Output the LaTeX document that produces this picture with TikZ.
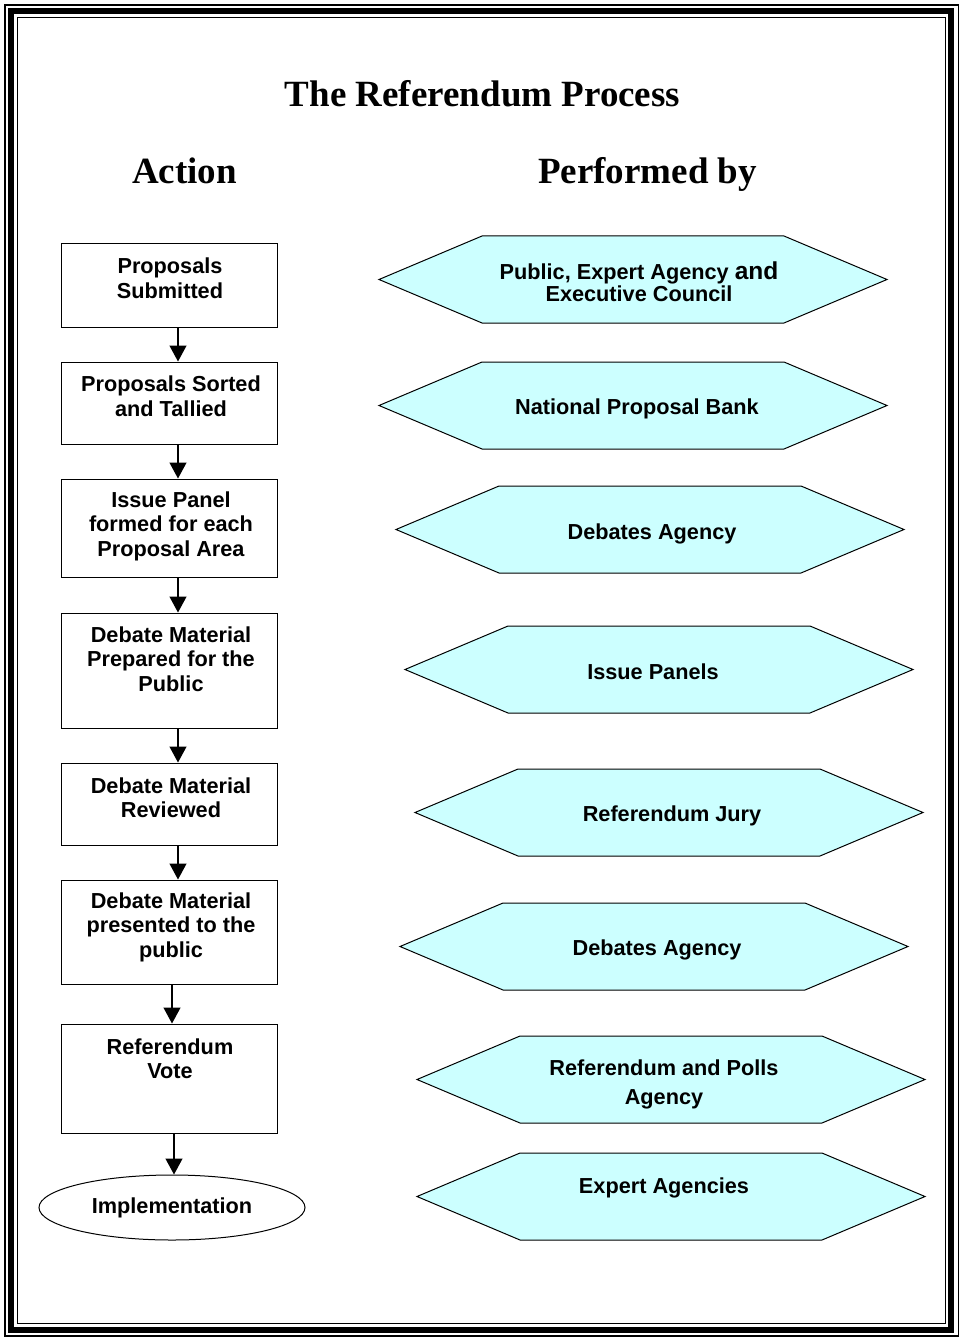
\documentclass[tikz,border=0pt]{standalone}
\usepackage{fontspec}
\setmainfont{Liberation Serif}
\newfontfamily\arialf{Liberation Sans}
\usetikzlibrary{arrows.meta,shapes.geometric}
\definecolor{hexfill}{HTML}{CCFFFF}
\tikzset{
  heading/.style={anchor=base, inner sep=0pt, font=\bfseries\fontsize{37}{40}\selectfont},
  stepbox/.style={draw=black, line width=1pt, minimum width=216pt, minimum height=#1, inner sep=0pt},
  btxt/.style={align=center, inner sep=0pt, font=\arialf\bfseries\fontsize{21.7}{24.5}\selectfont},
  hexshape/.style={draw=black, line width=1pt, fill=hexfill},
  endnode/.style={draw=black, line width=1pt, ellipse, minimum width=266pt, minimum height=65pt, inner sep=0pt, font=\arialf\bfseries\fontsize{21.7}{24.5}\selectfont},
  arr/.style={line width=1.3pt, -{Triangle[length=16pt,width=17pt]}},
}
\newcommand\hexa[3]{% left x, top y, name
  \draw[hexshape] (#1,#2+43.5) coordinate (#3) -- ++(103,-43.5) -- ++(302,0) -- ++(103,43.5) -- ++(-103,43.5) -- ++(-302,0) -- cycle;}
\begin{document}
\begin{tikzpicture}[x=1pt,y=-1pt]
\useasboundingbox (0,0) rectangle (964,1337);
% frame
\draw[line width=1.6pt] (5,5) rectangle (958.5,1336);
\draw[line width=6pt] (10.8,10.8) rectangle (951,1330);
\draw[line width=1.6pt] (17.5,17.5) rectangle (945.5,1323.5);

% headings
\node[heading] (title) at (482.5,107) {The Referendum Process};
\node[heading] (action) at (184.5,184) {Action};
\node[heading] (perf) at (647.5,184) {Performed by};

% action boxes
\node[stepbox=83pt] (b1) at (169,285.5) {};
\node[btxt] (b1t) at (170,278) {Proposals\\Submitted};
\node[stepbox=82pt] (b2) at (169,403) {};
\node[btxt] (b2t) at (171,396) {Proposals Sorted\\and Tallied};
\node[stepbox=98pt] (b3) at (169,528) {};
\node[btxt] (b3t) at (171,526) {Issue Panel\\formed for each\\Proposal Area};
\node[stepbox=115pt] (b4) at (169,670.5) {};
\node[btxt] (b4t) at (171,659) {Debate Material\\Prepared for the\\Public};
\node[stepbox=82pt] (b5) at (169,804) {};
\node[btxt] (b5t) at (171,797.5) {Debate Material\\Reviewed};
\node[stepbox=104pt] (b6) at (169,932) {};
\node[btxt] (b6t) at (171,927) {Debate Material\\presented to the\\public};
\node[stepbox=109pt] (b7) at (169,1078.5) {};
\node[btxt] (b7t) at (170,1058.5) {Referendum\\Vote};
\node[endnode] (impl) at (172,1207.5) {Implementation};

% arrows
\draw[arr] ([xshift=9pt]b1.south) -- ([xshift=9pt]b2.north);
\draw[arr] ([xshift=9pt]b2.south) -- ([xshift=9pt]b3.north);
\draw[arr] ([xshift=9pt]b3.south) -- ([xshift=9pt]b4.north);
\draw[arr] ([xshift=9pt]b4.south) -- ([xshift=9pt]b5.north);
\draw[arr] ([xshift=9pt]b5.south) -- ([xshift=9pt]b6.north);
\draw[arr] ([xshift=3pt]b6.south) -- ([xshift=3pt]b7.north);
\draw[arr] ([xshift=5pt]b7.south) -- ([xshift=5pt]b7.south |- impl.north);

% performer hexagons
\hexa{379}{236}{h1}
\node[btxt, font=\arialf\bfseries\fontsize{21.7}{22}\selectfont] (h1t) at (639,282) {Public, Expert Agency {\fontsize{24.5}{22}\selectfont and}\\Executive Council};
\hexa{379}{362}{h2}
\node[btxt] (h2t) at (637,409) {National Proposal Bank};
\hexa{396}{486}{h3}
\node[btxt] (h3t) at (652,534) {Debates Agency};
\hexa{405}{626}{h4}
\node[btxt] (h4t) at (653,672) {Issue Panels};
\hexa{415}{769}{h5}
\node[btxt] (h5t) at (672,816) {Referendum Jury};
\hexa{400}{903}{h6}
\node[btxt] (h6t) at (657,950) {Debates Agency};
\hexa{417}{1036}{h7}
\node[btxt, font=\arialf\bfseries\fontsize{21.7}{29}\selectfont] (h7t) at (664,1084) {Referendum and Polls\\Agency};
\hexa{417}{1153}{h8}
\node[btxt] (h8t) at (664,1188) {Expert Agencies};
\end{tikzpicture}
\end{document}
